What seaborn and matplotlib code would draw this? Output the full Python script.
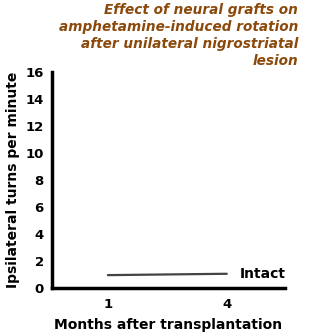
import matplotlib
matplotlib.use("Agg")
import matplotlib.pyplot as plt
import seaborn as sns
import pandas as pd

months = ["1", "4"]
intact = [0.95, 1.05]
series_name = "Intact"
yticks = [0, 2, 4, 6, 8, 10, 12, 14, 16]

sns.set_theme(style="white")
plt.rcParams['font.family'] = ['DejaVu Sans']

df = pd.DataFrame({"month": months, "turns": intact, "pos": [0, 1]})

fig = plt.figure(figsize=(3.21, 3.36), dpi=100)
ax = fig.add_axes([0.162, 0.143, 0.726, 0.643])
sns.lineplot(data=df, x="pos", y="turns", ax=ax, color="#444444", linewidth=1.6)

ax.set_xlim(-0.47, 1.49)
ax.set_ylim(0, 16)
ax.set_xticks([0, 1])
ax.set_xticklabels(months)
ax.set_yticks(yticks)
ax.set_yticklabels([str(t) for t in yticks])
ax.tick_params(axis='both', length=0, labelsize=9.5, pad=6, labelcolor='black')
for lab in ax.get_xticklabels() + ax.get_yticklabels():
    lab.set_fontweight('bold')
ax.tick_params(axis='x', pad=7)
for s in ["top", "right"]:
    ax.spines[s].set_visible(False)
for s in ["left", "bottom"]:
    ax.spines[s].set_linewidth(2.5)
    ax.spines[s].set_color("black")
ax.set_xlabel("Months after transplantation", fontsize=10, fontweight='bold', labelpad=5, color='black')
ax.set_ylabel("Ipsilateral turns per minute", fontsize=10, fontweight='bold', labelpad=4, color='black')
ax.text(1.11, intact[-1], series_name, fontsize=10, fontweight='bold', va='center', ha='left', color='black')

fig.text(0.928, 0.99, "Effect of neural grafts on\namphetamine-induced rotation\nafter unilateral nigrostriatal\nlesion",
         ha='right', va='top', fontsize=9.8, fontweight='bold', fontstyle='italic',
         color="#8B4A0C", linespacing=1.25)

fig.savefig("out.png", dpi=100)
